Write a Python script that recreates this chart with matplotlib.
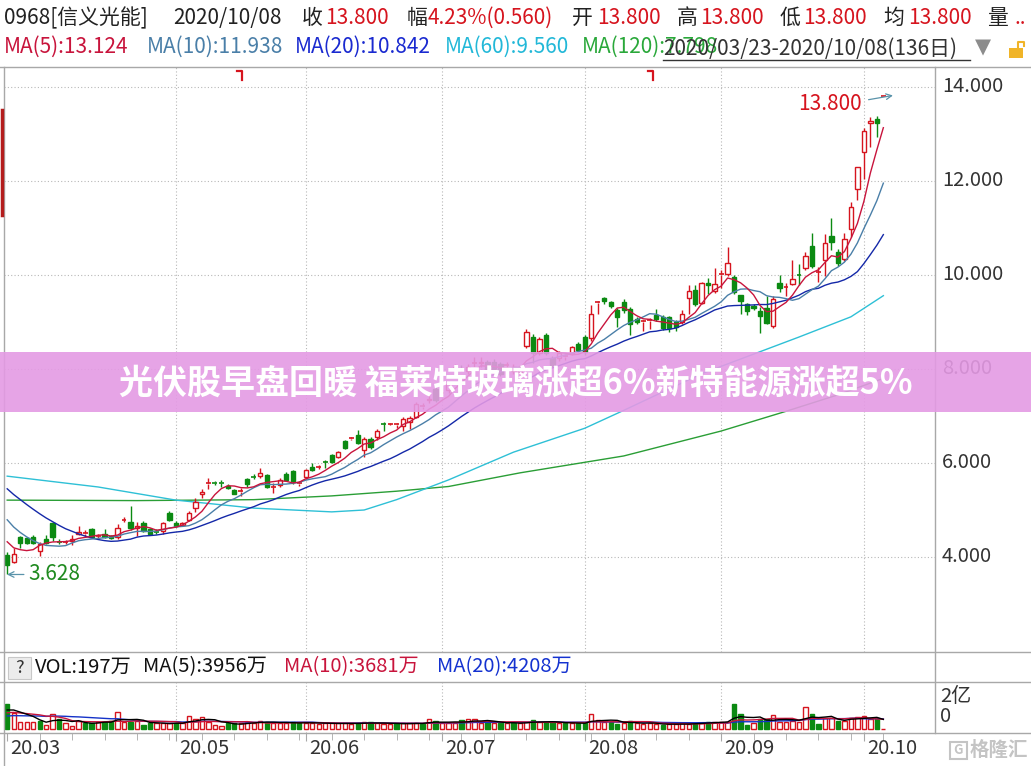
# 信义光能 0968 daily k-line, 2020/03/23 - 2020/10/08
# redrawing the trading software screenshot with matplotlib
import numpy as np
import pandas as pd
import matplotlib
matplotlib.use('Agg')
import matplotlib.pyplot as plt
from matplotlib.patches import Rectangle
from matplotlib.lines import Line2D

plt.rcParams['font.family'] = ['Noto Sans CJK SC', 'DejaVu Sans']

# ---- data ----
opens = [4.05, 3.90, 4.42, 4.40, 4.42, 4.13, 4.38, 4.72, 4.34, 4.31,
         4.35, 4.50, 4.50, 4.60, 4.44, 4.50, 4.44, 4.43, 4.78, 4.74,
         4.62, 4.72, 4.60, 4.56, 4.55, 4.94, 4.72, 4.68, 4.79, 5.04,
         5.33, 5.56, 5.59, 5.59, 5.51, 5.42, 5.39, 5.66, 5.71, 5.72,
         5.74, 5.48, 5.53, 5.77, 5.83, 5.56, 5.70, 5.92, 5.91, 6.03,
         6.17, 6.13, 6.47, 6.52, 6.60, 6.28, 6.51, 6.55, 6.84, 6.82,
         6.81, 6.79, 6.87, 6.98, 7.20, 7.34, 7.57, 7.48, 7.55, 8.00,
         8.02, 7.95, 8.12, 8.12, 8.15, 8.15, 8.10, 8.08, 7.95, 7.94,
         8.49, 8.68, 8.34, 8.72, 8.23, 8.23, 8.26, 8.34, 8.53, 8.68,
         8.65, 9.40, 9.51, 9.42, 9.26, 9.42, 9.27, 9.06, 9.01, 9.03,
         9.15, 9.11, 9.10, 9.00, 9.00, 9.51, 9.68, 9.40, 9.83, 9.67,
         10.01, 10.03, 9.96, 9.57, 9.38, 9.33, 9.24, 9.29, 8.91, 9.82,
         9.74, 9.81, 10.01, 10.14, 10.62, 10.06, 10.32, 10.83, 10.49, 10.34,
         10.97, 11.84, 12.62, 13.23, 13.31, 13.80]
highs = [4.10, 4.19, 4.45, 4.43, 4.46, 4.32, 4.47, 4.75, 4.38, 4.36,
         4.46, 4.65, 4.57, 4.62, 4.48, 4.60, 4.47, 4.70, 4.85, 5.08,
         4.74, 4.76, 4.62, 4.60, 4.75, 4.97, 4.76, 4.74, 4.97, 5.25,
         5.45, 5.68, 5.62, 5.63, 5.55, 5.45, 5.46, 5.68, 5.76, 5.90,
         5.76, 5.57, 5.68, 5.80, 5.86, 5.62, 5.88, 6.00, 5.95, 6.06,
         6.20, 6.25, 6.50, 6.56, 6.70, 6.55, 6.55, 6.72, 6.88, 6.86,
         6.86, 6.97, 7.00, 7.30, 7.28, 7.45, 7.62, 7.60, 7.75, 8.10,
         8.08, 8.10, 8.25, 8.26, 8.20, 8.22, 8.15, 8.15, 8.10, 8.08,
         8.85, 8.75, 8.68, 8.76, 8.28, 8.38, 8.32, 8.50, 8.58, 8.72,
         9.36, 9.45, 9.53, 9.45, 9.30, 9.48, 9.32, 9.10, 9.05, 9.08,
         9.27, 9.15, 9.13, 9.05, 9.25, 9.79, 9.79, 9.86, 9.93, 10.14,
         10.10, 10.59, 10.00, 9.57, 9.40, 9.38, 9.32, 9.55, 9.56, 10.00,
         9.82, 10.32, 10.24, 10.50, 10.90, 10.17, 10.88, 11.21, 10.55, 10.90,
         11.56, 12.29, 13.12, 13.37, 13.38, 13.80]
lows = [3.628, 3.88, 4.20, 4.28, 4.27, 4.03, 4.28, 4.35, 4.28, 4.28,
        4.25, 4.47, 4.42, 4.43, 4.40, 4.40, 4.38, 4.38, 4.74, 4.58,
        4.45, 4.53, 4.46, 4.50, 4.50, 4.76, 4.64, 4.66, 4.76, 4.95,
        5.25, 5.45, 5.54, 5.50, 5.44, 5.33, 5.30, 5.50, 5.66, 5.68,
        5.47, 5.36, 5.50, 5.62, 5.55, 5.52, 5.67, 5.82, 5.88, 5.90,
        6.00, 6.10, 6.30, 6.48, 6.40, 6.13, 6.30, 6.50, 6.68, 6.80,
        6.75, 6.68, 6.72, 6.95, 7.15, 7.28, 7.30, 7.42, 7.50, 7.90,
        7.95, 7.90, 8.05, 8.05, 7.95, 7.95, 7.85, 8.00, 7.90, 7.88,
        8.45, 8.12, 8.30, 8.30, 8.05, 8.18, 8.20, 8.30, 8.36, 8.30,
        8.60, 9.18, 9.38, 9.30, 8.90, 9.20, 8.73, 8.95, 8.80, 8.85,
        9.02, 8.82, 8.78, 8.80, 8.96, 9.17, 9.35, 9.38, 9.60, 9.62,
        9.72, 9.98, 9.60, 9.16, 9.15, 9.25, 8.76, 8.95, 8.88, 9.64,
        9.55, 9.78, 9.78, 10.10, 10.15, 9.85, 9.97, 10.53, 10.20, 10.30,
        10.81, 11.60, 12.04, 12.73, 12.94, 13.80]
closes = [3.82, 4.06, 4.30, 4.30, 4.30, 4.28, 4.30, 4.42, 4.32, 4.32,
          4.39, 4.53, 4.52, 4.43, 4.45, 4.43, 4.40, 4.62, 4.79, 4.62,
          4.66, 4.55, 4.48, 4.54, 4.72, 4.78, 4.65, 4.72, 4.94, 5.17,
          5.38, 5.57, 5.58, 5.58, 5.47, 5.35, 5.40, 5.55, 5.70, 5.79,
          5.49, 5.49, 5.64, 5.64, 5.62, 5.57, 5.85, 5.85, 5.92, 6.02,
          6.02, 6.23, 6.32, 6.53, 6.43, 6.51, 6.34, 6.68, 6.83, 6.83,
          6.82, 6.94, 6.96, 7.26, 7.21, 7.36, 7.34, 7.50, 7.68, 8.02,
          8.00, 8.05, 8.13, 8.14, 7.98, 7.98, 7.90, 8.09, 8.04, 8.04,
          8.79, 8.34, 8.64, 8.34, 8.09, 8.34, 8.27, 8.47, 8.40, 8.36,
          9.18, 9.42, 9.44, 9.35, 9.10, 9.26, 8.96, 9.00, 9.02, 9.04,
          9.07, 8.87, 8.88, 8.90, 9.18, 9.65, 9.39, 9.82, 9.78, 9.80,
          10.02, 10.26, 9.64, 9.45, 9.24, 9.30, 9.13, 8.98, 9.50, 9.72,
          9.75, 9.91, 9.99, 10.40, 10.19, 10.07, 10.68, 10.71, 10.26, 10.77,
          11.45, 12.29, 13.06, 13.28, 13.24, 13.80]
# closes before 03/23, only needed so MA5/10/20 start where the screenshot does
prior_closes = [6.5, 6.45, 6.4, 6.3, 6.2, 6.1, 6.0, 5.9, 5.75, 5.5,
                5.6, 5.45, 5.25, 5.1, 4.9, 4.7, 4.5, 4.4, 4.2]

# volume in 万
volumes = [10000, 6500, 2900, 2900, 2900, 3300, 1600, 6000, 3900, 2300,
           1200, 3300, 2300, 2300, 2900, 2900, 3300, 6800, 2900, 2900,
           3300, 1600, 2300, 2300, 2300, 2300, 2300, 2300, 5200, 3900,
           4900, 2900, 1600, 1200, 2300, 2300, 2300, 2900, 2300, 3300,
           2900, 2300, 2300, 2300, 2900, 2300, 2600, 2300, 1900, 2300,
           2300, 2300, 2300, 1900, 2300, 2700, 2700, 2300, 1900, 1900,
           2300, 2300, 2300, 2300, 1900, 3900, 3300, 2300, 2300, 2300,
           3600, 3900, 3900, 2300, 3300, 2300, 2300, 2300, 2300, 2500,
           2900, 3600, 2700, 2700, 2700, 2300, 2300, 2300, 2300, 2300,
           6000, 3600, 2900, 2900, 1900, 2300, 3200, 2300, 1900, 2300,
           1900, 1600, 1900, 1900, 2500, 1900, 2300, 2500, 2900, 2900,
           2900, 2900, 10000, 6000, 1600, 2500, 3900, 3900, 5600, 2900,
           2900, 3300, 2900, 8700, 6000, 2000, 4300, 4300, 3300, 3300,
           4300, 5000, 5300, 4200, 4500, 197]
prior_volumes = [3600, 3800, 4000, 3700, 3900, 4100, 3800, 4000, 3900, 4200,
                 5000, 5200, 5400, 5600, 5800, 6500, 7000, 7200, 7300]

# MA60 / MA120 need far more history than shown, so read them off the lines
ma60_idx = [0, 14, 26, 38, 50, 55, 60, 68, 78, 89, 95, 107, 122, 130, 135]
ma60_val = [5.72, 5.49, 5.21, 5.04, 4.96, 5.00, 5.22, 5.64, 6.23, 6.74, 7.12, 7.90, 8.68, 9.11, 9.56]
ma120_idx = [0, 20, 38, 50, 60, 68, 79, 95, 110, 120, 128, 135]
ma120_val = [5.21, 5.20, 5.22, 5.30, 5.40, 5.50, 5.79, 6.15, 6.68, 7.10, 7.45, 7.80]

month_idx = [0, 26, 46, 67, 89, 110, 132]
month_labels = ['20.03', '20.05', '20.06', '20.07', '20.08', '20.09', '20.10']
price_ticks = [4, 6, 8, 10, 12, 14]

# ---- colours ----
RED = '#d6141e'
GREEN = '#0b8a12'
C_MA5 = '#c8143c'
C_MA10 = '#4a7fa8'
C_MA20 = '#1428a8'
C_MA60 = '#2ec0d6'
C_MA120 = '#2a9e36'
GRID = '#b8b8b8'
LINE = '#a8a8a8'

n = len(closes)
x = np.arange(n)
o = np.array(opens); h = np.array(highs); l = np.array(lows); c = np.array(closes)

c_all = pd.Series(prior_closes + closes)
ma5 = c_all.rolling(5).mean().values[len(prior_closes):]
ma10 = c_all.rolling(10).mean().values[len(prior_closes):]
ma20 = c_all.rolling(20).mean().values[len(prior_closes):]

v_all = pd.Series(prior_volumes + volumes)
vma5 = v_all.rolling(5).mean().values[len(prior_volumes):]
vma10 = v_all.rolling(10).mean().values[len(prior_volumes):]
vma20 = v_all.rolling(20).mean().values[len(prior_volumes):]

W, H = 1031, 766
fig = plt.figure(figsize=(W / 100, H / 100), dpi=100)
fig.patch.set_facecolor('white')


def fx(px):
    return px / W


def fy(py):
    return 1 - py / H


def rect(x0, y0, x1, y1):
    return [fx(x0), fy(y1), (x1 - x0) / W, (y1 - y0) / H]


def hline(py, x0=0, x1=W, color=LINE, lw=1.0):
    fig.add_artist(Line2D([fx(x0), fx(x1)], [fy(py), fy(py)], color=color, lw=lw))


def vline(px, y0, y1, color=LINE, lw=1.0):
    fig.add_artist(Line2D([fx(px), fx(px)], [fy(y0), fy(y1)], color=color, lw=lw))


# candle i sits at pixel 7.2 + 6.49*i
XL = ((4 - 7.2) / 6.49, (935 - 7.2) / 6.49)

# ---- price panel ----
ax = fig.add_axes(rect(4, 67, 935, 652))
ax.set_xlim(XL)
ax.set_ylim(4 + (557 - 652) / 47, 4 + (557 - 67) / 47)
for s in ax.spines.values():
    s.set_visible(False)
ax.set_xticks([])
ax.set_yticks([])

for p in price_ticks:
    ax.axhline(p, color=GRID, lw=0.8, ls=(0, (1, 2)), zorder=0)
    ax.text(1.0075, p, '%.3f' % p, transform=ax.get_yaxis_transform(),
            ha='left', va='center', fontsize=14.5, color='#333333', clip_on=False)
for m in month_idx[1:]:
    ax.axvline(m, color=GRID, lw=0.8, ls=(0, (1, 2)), zorder=0)

up = c >= o
body_lo = np.minimum(o, c)
body_hi = np.maximum(o, c)
col = np.where(up, RED, GREEN)
# wicks (split so they don't run through the hollow bodies)
ax.vlines(x, l, body_lo, colors=col, lw=1.0, zorder=2)
ax.vlines(x, body_hi, h, colors=col, lw=1.0, zorder=2)
bh = body_hi - body_lo
big = bh > 0.02
ax.bar(x[big & up], bh[big & up], bottom=body_lo[big & up], width=0.66,
       facecolor='white', edgecolor=RED, lw=1.0, zorder=3)
ax.bar(x[big & ~up], bh[big & ~up], bottom=body_lo[big & ~up], width=0.66,
       facecolor=GREEN, edgecolor=GREEN, lw=1.0, zorder=3)
ax.hlines(c[~big], x[~big] - 0.38, x[~big] + 0.38, colors=col[~big], lw=1.2, zorder=3)

ax.plot(ma120_idx, ma120_val, color=C_MA120, lw=1.0, zorder=1)
ax.plot(ma60_idx, ma60_val, color=C_MA60, lw=1.0, zorder=1)
ax.plot(x, ma20, color=C_MA20, lw=1.0, zorder=4)
ax.plot(x, ma10, color=C_MA10, lw=1.0, zorder=4)
ax.plot(x, ma5, color=C_MA5, lw=1.0, zorder=4)

# high / low markers
ax.annotate('', xy=(-0.45, min(lows)), xytext=(3.0, min(lows)),
            arrowprops=dict(arrowstyle='->', color='#5a93aa', lw=0.9))
ax.text(3.3, min(lows), '%.3f' % min(lows), color='#1f8a1f', fontsize=15,
        ha='left', va='center')
ax.annotate('', xy=(n + 0.9, max(highs) + 0.03), xytext=(n - 3.7, max(highs) - 0.08),
            arrowprops=dict(arrowstyle='->', color='#5a93aa', lw=0.9))
ax.text(n - 4.3, max(highs) - 0.16, '%.3f' % max(highs), color=RED, fontsize=15,
        ha='right', va='center')

# ---- volume panel ----
axv = fig.add_axes(rect(4, 682, 935, 733))
axv.set_xlim(XL)
axv.set_ylim(-4 * 400, (729 - 682) * 400)
for s in axv.spines.values():
    s.set_visible(False)
axv.set_yticks([])
for m in month_idx[1:]:
    axv.axvline(m, color=GRID, lw=0.8, ls=(0, (1, 2)), zorder=0)
v = np.array(volumes, dtype=float)
vup = c >= np.array([prior_closes[-1]] + closes[:-1])
axv.bar(x[vup], v[vup], width=0.66, facecolor='white', edgecolor=RED, lw=1.0, zorder=2)
axv.bar(x[~vup], v[~vup], width=0.66, facecolor=GREEN, edgecolor=GREEN, lw=1.0, zorder=2)
axv.plot(x, vma20, color='#1432c8', lw=1.0, zorder=3)
axv.plot(x, vma10, color=C_MA5, lw=1.0, zorder=3)
axv.plot(x, vma5, color='black', lw=1.0, zorder=3)
axv.set_xticks(month_idx)
axv.set_xticks(np.arange(0, n, 5), minor=True)
axv.tick_params(axis='x', which='both', direction='out', length=6, color=LINE,
                labelbottom=False)
axv.tick_params(axis='x', which='minor', length=5)

# ---- frame lines ----
for py in [67, 652, 682, 733]:
    hline(py)
vline(4, 67, 766)
vline(935, 67, 733)
# little red marks along the top edge and the left edge
for px in [242, 653]:
    fig.add_artist(Line2D([fx(px - 5), fx(px), fx(px)], [fy(71), fy(71), fy(80)],
                          color=RED, lw=1.6))
fig.add_artist(Line2D([fx(1.5), fx(1.5)], [fy(110), fy(215)], color='#b41c1c', lw=2.5))

# month labels under the volume panel
for m, lab in zip(month_idx, month_labels):
    fig.text(fx(7.2 + 6.49 * m + 3), fy(749), lab, ha='left', va='center',
             fontsize=14.5, color='#333333')
fig.text(fx(940), fy(697), '2亿', ha='left', va='center', fontsize=14.5, color='#333333')
fig.text(fx(940), fy(716), '0', ha='left', va='center', fontsize=14.5, color='#333333')

# ---- header rows ----
def put(px, py, s, color='#222222', size=15):
    fig.text(fx(px), fy(py), s, ha='left', va='center', fontsize=size, color=color)


put(4, 18, '0968[信义光能]')
put(173, 18, '2020/10/08')
put(302, 18, '收')
put(325, 18, '13.800', RED)
put(407, 18, '幅')
put(428, 18, '4.23%(0.560)', RED)
put(572, 18, '开')
put(597, 18, '13.800', RED)
put(677, 18, '高')
put(700, 18, '13.800', RED)
put(780, 18, '低')
put(803, 18, '13.800', RED)
put(883, 18, '均')
put(908, 18, '13.800', RED)
put(987, 18, '量')
put(1014, 18, '..', RED)

put(4, 47, 'MA(5):13.124', C_MA5)
put(147, 47, 'MA(10):11.938', C_MA10)
put(295, 47, 'MA(20):10.842', '#1a2ad0')
put(445, 47, 'MA(60):9.560', '#22b8d8')
put(582, 47, 'MA(120):7.798', '#2aa83a')
put(663, 49, '2020/03/23-2020/10/08(136日)', '#333333')
hline(60, 663, 970, color='#333333', lw=1.0)
fig.text(fx(983), fy(47), '▼', ha='center', va='center', fontsize=15, color='#8c8c8c',
         family='DejaVu Sans')
fig.add_artist(Rectangle((fx(1009), fy(58)), 14 / W, 10 / H, transform=fig.transFigure,
                         facecolor='#f0b428', edgecolor='none'))
fig.add_artist(Line2D([fx(1018), fx(1018), fx(1024), fx(1024)],
                      [fy(48), fy(42), fy(42), fy(46)], color='#f0b428', lw=1.5))

# volume header
fig.add_artist(Rectangle((fx(8), fy(679)), 23 / W, 22 / H, transform=fig.transFigure,
                         facecolor='#ececec', edgecolor='#c8c8c8', lw=0.8))
fig.text(fx(19.5), fy(668), '?', ha='center', va='center', fontsize=13, color='#333333')
put(35, 667, 'VOL:197万', '#111111', 14.5)
put(143, 667, 'MA(5):3956万', '#111111', 14.5)
put(284, 667, 'MA(10):3681万', C_MA5, 14.5)
put(437, 667, 'MA(20):4208万', '#1432d0', 14.5)

# watermark
fig.add_artist(Rectangle((fx(950), fy(759)), 17 / W, 17 / H, transform=fig.transFigure,
                         facecolor='none', edgecolor='#c4c4c4', lw=1.5))
fig.text(fx(958.5), fy(750.5), 'G', ha='center', va='center', fontsize=9.5, color='#c4c4c4',
         weight='bold')
fig.text(fx(970), fy(750), '格隆汇', ha='left', va='center', fontsize=14, color='#c4c4c4',
         weight='bold')

# ---- pink news banner across the middle ----
fig.add_artist(Rectangle((0, fy(412)), 1, 60 / H, transform=fig.transFigure,
                         facecolor='#e49ae4', edgecolor='none', alpha=0.9, zorder=10))
fig.text(fx(516), fy(383), '光伏股早盘回暖 福莱特玻璃涨超6%新特能源涨超5%', ha='center',
         va='center', fontsize=24.5, color='white', weight='bold', zorder=11)

fig.savefig('out.png', dpi=100)
